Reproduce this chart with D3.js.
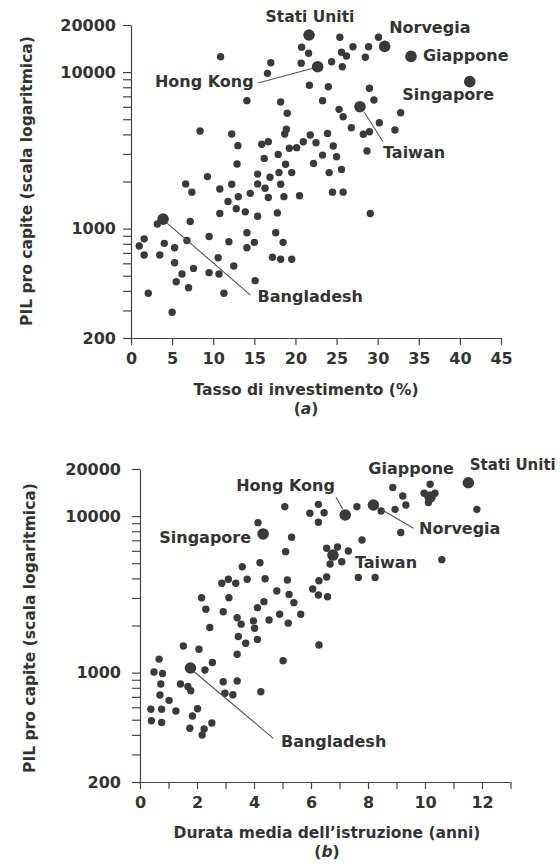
<!DOCTYPE html>
<html>
<head>
<meta charset="utf-8">
<script src="https://cdn.jsdelivr.net/npm/d3@7"></script>
<style>
  html, body { margin: 0; padding: 0; background: #fff; }
  svg text { font-family: "DejaVu Sans", sans-serif; font-weight: bold; fill: #333; }
</style>
</head>
<body>
<svg id="chart" width="560" height="864"></svg>
<script>
// ---- Panel (a): investment rate vs GDP per capita ----
const investRate = [
  20.75, 21.6, 10.9, 17.0, 20.7, 16.6, 21.7, 14.1, 18.2, 19.0,
  8.4, 12.25, 18.9, 18.7, 13.0, 15.9, 16.7, 21.8, 20.95, 20.15,
  19.25, 22.5, 17.9, 16.2, 12.9, 22.2, 18.8, 18.0, 19.55, 15.4,
  16.9, 9.3, 6.65, 7.4, 10.8, 12.25, 15.4, 16.3, 18.2, 14.5,
  13.05, 16.7, 18.6, 20.5, 11.8, 12.8, 13.9, 10.8, 15.4, 17.8,
  3.2, 7.2, 9.5, 14.1, 17.6, 1.6, 1.0, 1.6, 4.05, 5.3,
  6.8, 11.9, 15.0, 14.1, 18.5, 3.5, 5.3, 10.6, 17.2, 18.2,
  19.55, 6.2, 7.6, 9.5, 10.7, 12.5, 5.5, 7.0, 15.1, 2.1,
  11.3, 5.0,
  25.4, 30.1, 27.0, 28.9, 25.6, 26.2, 28.5, 24.4, 25.7, 24.0,
  29.0, 29.55, 23.3, 25.3, 25.8, 32.8, 30.2, 26.8, 28.25, 29.0,
  32.1, 28.7, 23.9, 24.6, 23.3, 25.0, 24.1, 25.6, 24.5, 25.8, 29.1
];
const gdpA = [
  14420, 13190, 12540, 11480, 11380, 9820, 8240, 6570, 6440, 5460,
  4200, 4020, 4310, 4020, 3390, 3460, 3590, 3960, 3590, 3290,
  3260, 3540, 2980, 2810, 2590, 2610, 2580, 2280, 2280, 2230,
  2130, 2150, 1930, 1710, 1790, 1920, 1930, 1810, 1920, 1680,
  1600, 1580, 1600, 1620, 1490, 1340, 1280, 1250, 1200, 1260,
  1070, 1110, 890, 940, 940, 860, 774, 678, 805, 755,
  840, 825, 817, 755, 817, 678, 605, 652, 656, 637,
  637, 513, 557, 523, 513, 577, 458, 419, 465, 386,
  386, 292,
  16690, 16690, 14530, 14530, 13390, 12680, 12440, 11650, 10830, 8070,
  7880, 6630, 6570, 5780, 5190, 5500, 4750, 4410, 4010, 4160,
  4270, 3130, 4060, 3370, 2950, 2880, 2280, 2390, 1710, 1710, 1250
];
const namedA = ["Stati Uniti", "Hong Kong", "Norvegia", "Giappone", "Singapore", "Taiwan", "Bangladesh"];
const namedInvest = [21.65, 22.7, 30.85, 34.05, 41.2, 27.85, 3.9];
const namedGdpA = [17260, 10830, 14600, 12600, 8690, 6010, 1150];

// ---- Panel (b): years of schooling vs GDP per capita ----
const schoolYears = [
  5.08, 6.26, 5.96, 6.46, 6.26, 4.14, 5.32, 5.11, 3.59, 4.21,
  2.87, 3.10, 3.36, 3.76, 4.39, 5.17, 4.80, 5.23, 6.28, 6.06,
  6.26, 6.58, 2.16, 3.12, 2.31, 2.92, 4.12, 4.35, 5.40, 3.41,
  3.55, 3.98, 4.02, 4.53, 4.90, 5.20, 5.64, 2.45, 3.45, 3.71,
  4.12, 1.52, 2.07, 3.41, 6.28, 0.67, 2.54, 5.02, 2.28, 0.49,
  0.79, 0.73, 1.42, 1.68, 1.78, 2.92, 3.41, 0.70, 1.02, 2.98,
  3.26, 4.24, 0.38, 0.76, 1.26, 2.02, 1.84, 0.40, 0.76, 1.75,
  2.25, 2.18, 2.52,
  8.87, 10.18, 9.97, 10.35, 10.12, 9.22, 9.33, 8.95, 8.46, 7.61,
  11.82, 9.15, 7.79, 6.55, 6.93, 6.67, 7.08, 7.31, 10.59, 7.66,
  8.25, 6.55
];
const gdpB = [
  11480, 11890, 10420, 10510, 9130, 9080, 7320, 5930, 4750, 5040,
  3720, 3950, 3720, 3950, 3980, 3910, 3320, 3160, 3860, 3420,
  3130, 3050, 3010, 3010, 2540, 2450, 2600, 2840, 2800, 2240,
  2040, 2140, 1920, 2170, 2360, 2070, 2360, 1940, 1700, 1540,
  1630, 1480, 1410, 1310, 1500, 1220, 1160, 1190, 1040, 1010,
  986, 846, 846, 815, 765, 875, 884, 719, 665, 738,
  722, 755, 583, 583, 569, 588, 528, 493, 480, 441,
  437, 399, 476,
  15240, 15990, 13990, 13990, 12220, 13440, 11780, 11050, 10790, 11480,
  11050, 7860, 7040, 6230, 6350, 4940, 5110, 5990, 5270, 4060,
  4060, 4080
];
const namedB = ["Stati Uniti", "Hong Kong", "Norvegia", "Giappone", "Singapore", "Taiwan", "Bangladesh"];
const namedYears = [11.52, 7.2, 8.19, 10.18, 4.32, 6.77, 1.77];
const namedGdpB = [16340, 10170, 11780, 13250, 7690, 5640, 1070];

// ---- Axis ticks ----
const gdpTicks = [200, 300, 400, 500, 600, 700, 800, 900, 1000,
  2000, 3000, 4000, 5000, 6000, 7000, 8000, 9000, 10000, 20000];
const gdpTickLabels = [200, 1000, 10000, 20000];
const investTicks = [0, 5, 10, 15, 20, 25, 30, 35, 40, 45];
const yearTicks = [0, 1, 2, 3, 4, 5, 6, 7, 8, 9, 10, 11, 12, 13];
const yearTickLabels = [0, 2, 4, 6, 8, 10, 12];

const svg = d3.select("#chart");
const INK = "#3a3a3a";

function drawPanel(p) {
  const g = svg.append("g");
  const x = d3.scaleLinear().domain(p.xDomain).range(p.xRange);
  const y = d3.scaleLog().domain([200, 20000]).range(p.yRange);

  // y axis
  const yAxis = d3.axisLeft(y)
    .tickValues(gdpTicks)
    .tickSize(8).tickSizeOuter(0).tickPadding(p.yPad)
    .tickFormat(d => gdpTickLabels.includes(d) ? String(d) : "");
  const ya = g.append("g").attr("transform", `translate(${p.xRange[0]},0)`).call(yAxis);

  // x axis
  const xAxis = d3.axisBottom(x)
    .tickValues(p.xTicks)
    .tickSize(7).tickSizeOuter(0).tickPadding(8)
    .tickFormat(d => p.xLabels.includes(d) ? String(d) : "");
  const xa = g.append("g").attr("transform", `translate(0,${p.yRange[0]})`).call(xAxis);

  [ya, xa].forEach(a => {
    a.selectAll("path, line").attr("stroke", "#444").attr("stroke-width", 1.2);
    a.selectAll("text").style("font-size", "16px").attr("fill", "#333");
  });

  // axis titles
  g.append("text")
    .attr("transform", `translate(${p.yTitleX},${p.yTitleY}) rotate(-90)`)
    .attr("text-anchor", "middle").style("font-size", "15.5px")
    .text("PIL pro capite (scala logaritmica)");
  g.append("text")
    .attr("x", p.xTitleX).attr("y", p.xTitleY)
    .attr("text-anchor", "middle").style("font-size", "15.5px")
    .text(p.xTitle);
  const tag = g.append("text")
    .attr("x", p.xTitleX).attr("y", p.xTitleY + 19)
    .attr("text-anchor", "middle").style("font-size", "15.5px");
  tag.append("tspan").text("(");
  tag.append("tspan").style("font-style", "italic").text(p.tag);
  tag.append("tspan").text(")");

  // country dots
  g.append("g").selectAll("circle")
    .data(d3.range(p.xs.length))
    .join("circle")
    .attr("cx", i => x(p.xs[i]))
    .attr("cy", i => y(p.ys[i]))
    .attr("r", 3.7)
    .attr("fill", INK);

  // highlighted countries
  p.names.forEach((name, i) => {
    const cx = x(p.nx[i]), cy = y(p.ny[i]);
    const lab = p.labels[name];
    if (lab.line) {
      g.append("line")
        .attr("x1", cx + lab.line[0]).attr("y1", cy + lab.line[1])
        .attr("x2", cx + lab.line[2]).attr("y2", cy + lab.line[3])
        .attr("stroke", "#555").attr("stroke-width", 1.1);
    }
    g.append("circle").attr("cx", cx).attr("cy", cy).attr("r", 5.8).attr("fill", INK);
    g.append("text")
      .attr("x", cx + lab.dx).attr("y", cy + lab.dy)
      .attr("text-anchor", lab.anchor)
      .style("font-size", (lab.size || 16) + "px")
      .text(name);
  });
}

drawPanel({
  xDomain: [0, 45], xRange: [131, 501], yRange: [338, 25], yPad: 7,
  xTicks: investTicks, xLabels: investTicks,
  xs: investRate, ys: gdpA,
  names: namedA, nx: namedInvest, ny: namedGdpA,
  xTitle: "Tasso di investimento (%)", tag: "a",
  xTitleX: 306, xTitleY: 395, yTitleX: 32, yTitleY: 181,
  labels: {
    "Stati Uniti": { dx: 1, dy: -13, anchor: "middle", size: 15.5 },
    "Norvegia": { dx: 4.5, dy: -13, anchor: "start" },
    "Giappone": { dx: 12, dy: 5, anchor: "start" },
    "Singapore": { dx: -67.5, dy: 18, anchor: "start" },
    "Taiwan": { dx: 23, dy: 51, anchor: "start", line: [4, 5, 23, 35] },
    "Hong Kong": { dx: -64, dy: 20, anchor: "end", line: [-5, 1.5, -59.5, 16.3] },
    "Bangladesh": { dx: 94.5, dy: 83, anchor: "start", line: [4, 4, 87.4, 76] }
  }
});

drawPanel({
  xDomain: [0, 13], xRange: [140, 510.5], yRange: [782, 469], yPad: 11,
  xTicks: yearTicks, xLabels: yearTickLabels,
  xs: schoolYears, ys: gdpB,
  names: namedB, nx: namedYears, ny: namedGdpB,
  xTitle: "Durata media dell\u2019istruzione (anni)", tag: "b",
  xTitleX: 327, xTitleY: 838, yTitleX: 35, yTitleY: 628,
  labels: {
    "Stati Uniti": { dx: 1.5, dy: -12.7, anchor: "start", size: 15 },
    "Giappone": { dx: -19, dy: -23, anchor: "middle" },
    "Hong Kong": { dx: -10.3, dy: -24, anchor: "end", line: [-9.3, -18, -2.5, -6] },
    "Norvegia": { dx: 45.7, dy: 29, anchor: "start", line: [9, 5, 40, 23.3] },
    "Singapore": { dx: -12, dy: 9, anchor: "end" },
    "Taiwan": { dx: 22, dy: 13, anchor: "start" },
    "Bangladesh": { dx: 90.5, dy: 79, anchor: "start", line: [4, 4, 82.8, 70.3] }
  }
});
</script>
</body>
</html>
